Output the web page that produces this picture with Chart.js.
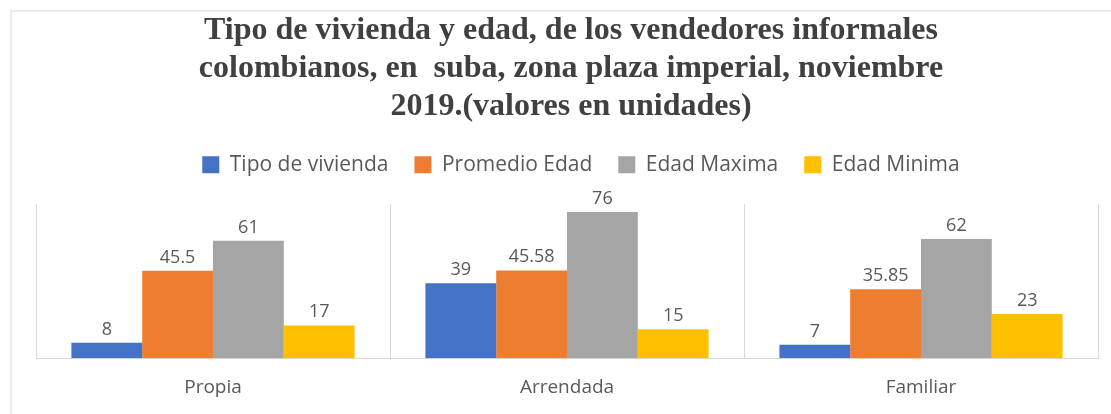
<!DOCTYPE html>
<html>
<head>
<meta charset="utf-8">
<script src="https://cdn.jsdelivr.net/npm/chart.js@4/dist/chart.umd.min.js"></script>
<style>
  html, body { margin: 0; padding: 0; background: #fff; overflow: hidden; }
  #wrap { position: relative; width: 1111px; height: 414px; }
  #frame {
    position: absolute; left: 10px; top: 10px; width: 1200px; height: 500px;
    border-left: 2px solid #ebebeb; border-top: 2px solid #ebebeb;
  }
  canvas { position: absolute; left: 0; top: 0; }
</style>
</head>
<body>
<div id="wrap">
  <div id="frame"></div>
  <canvas id="chart" width="1111" height="414"></canvas>
</div>
<script>
// ===== Data =====
const categories = ['Propia', 'Arrendada', 'Familiar'];
const tipoVivienda = [8, 39, 7];
const promedioEdad = [45.5, 45.58, 35.85];
const edadMaxima = [61, 76, 62];
const edadMinima = [17, 15, 23];
const seriesNames = ['Tipo de vivienda', 'Promedio Edad', 'Edad Maxima', 'Edad Minima'];
const seriesColors = ['#4472c4', '#ed7d31', '#a5a5a5', '#ffc000'];
const titleLines = [
  'Tipo de vivienda y edad, de los vendedores informales',
  'colombianos, en  suba, zona plaza imperial, noviembre',
  '2019.(valores en unidades)'
];

const textGray = '#595959';
const gridGray = '#d9d9d9';

// ===== etiquetas de valores encima de las barras =====
const valueLabels = {
  id: 'valueLabels',
  afterDatasetsDraw(chart) {
    const ctx = chart.ctx;
    ctx.save();
    ctx.font = '18px "Open Sans", sans-serif';
    ctx.fillStyle = textGray;
    ctx.textAlign = 'center';
    ctx.textBaseline = 'alphabetic';
    chart.data.datasets.forEach((ds, i) => {
      chart.getDatasetMeta(i).data.forEach((bar, j) => {
        ctx.fillText(String(ds.data[j]), bar.x, bar.y - 8);
      });
    });
    ctx.restore();
  }
};

// ===== espacio debajo de la leyenda + correr leyenda/título =====
const legendTweak = {
  id: 'legendTweak',
  beforeInit(chart) {
    const fit = chart.legend.fit;
    chart.legend.fit = function () {
      fit.bind(chart.legend)();
      this.height += 19;
    };
  },
  afterLayout(chart) {
    chart.legend.left += 14;
    chart.legend.right += 14;
    chart.titleBlock.left += 4;
    chart.titleBlock.right += 4;
  }
};

const ctx = document.getElementById('chart').getContext('2d');
new Chart(ctx, {
  type: 'bar',
  data: {
    labels: categories,
    datasets: [tipoVivienda, promedioEdad, edadMaxima, edadMinima].map((d, i) => ({
      label: seriesNames[i],
      data: d,
      backgroundColor: seriesColors[i],
      borderWidth: 0,
      categoryPercentage: 0.8,
      barPercentage: 1.0
    }))
  },
  options: {
    responsive: false,
    animation: false,
    layout: { padding: { left: 36, right: 13, top: 0, bottom: -3 } },
    plugins: {
      title: {
        display: true,
        text: titleLines,
        color: '#404040',
        font: { family: '"Liberation Serif", serif', size: 32, weight: 'bold', lineHeight: 1.19 },
        padding: { top: 12, bottom: 2 }
      },
      legend: {
        display: true,
        labels: {
          color: textGray,
          font: { family: '"Open Sans", sans-serif', size: 21 },
          boxWidth: 17,
          boxHeight: 17,
          padding: 26
        }
      },
      tooltip: { enabled: false }
    },
    scales: {
      x: {
        grid: {
          display: true,
          offset: true,
          color: (c) => c.index === categories.length ? 'rgba(0,0,0,0)' : gridGray,
          drawTicks: false
        },
        border: { display: true, color: gridGray },
        ticks: { color: textGray, font: { family: '"Open Sans", sans-serif', size: 19 }, padding: 18 }
      },
      y: {
        display: false,
        min: 0,
        max: 80
      }
    }
  },
  plugins: [valueLabels, legendTweak]
});
</script>
</body>
</html>
